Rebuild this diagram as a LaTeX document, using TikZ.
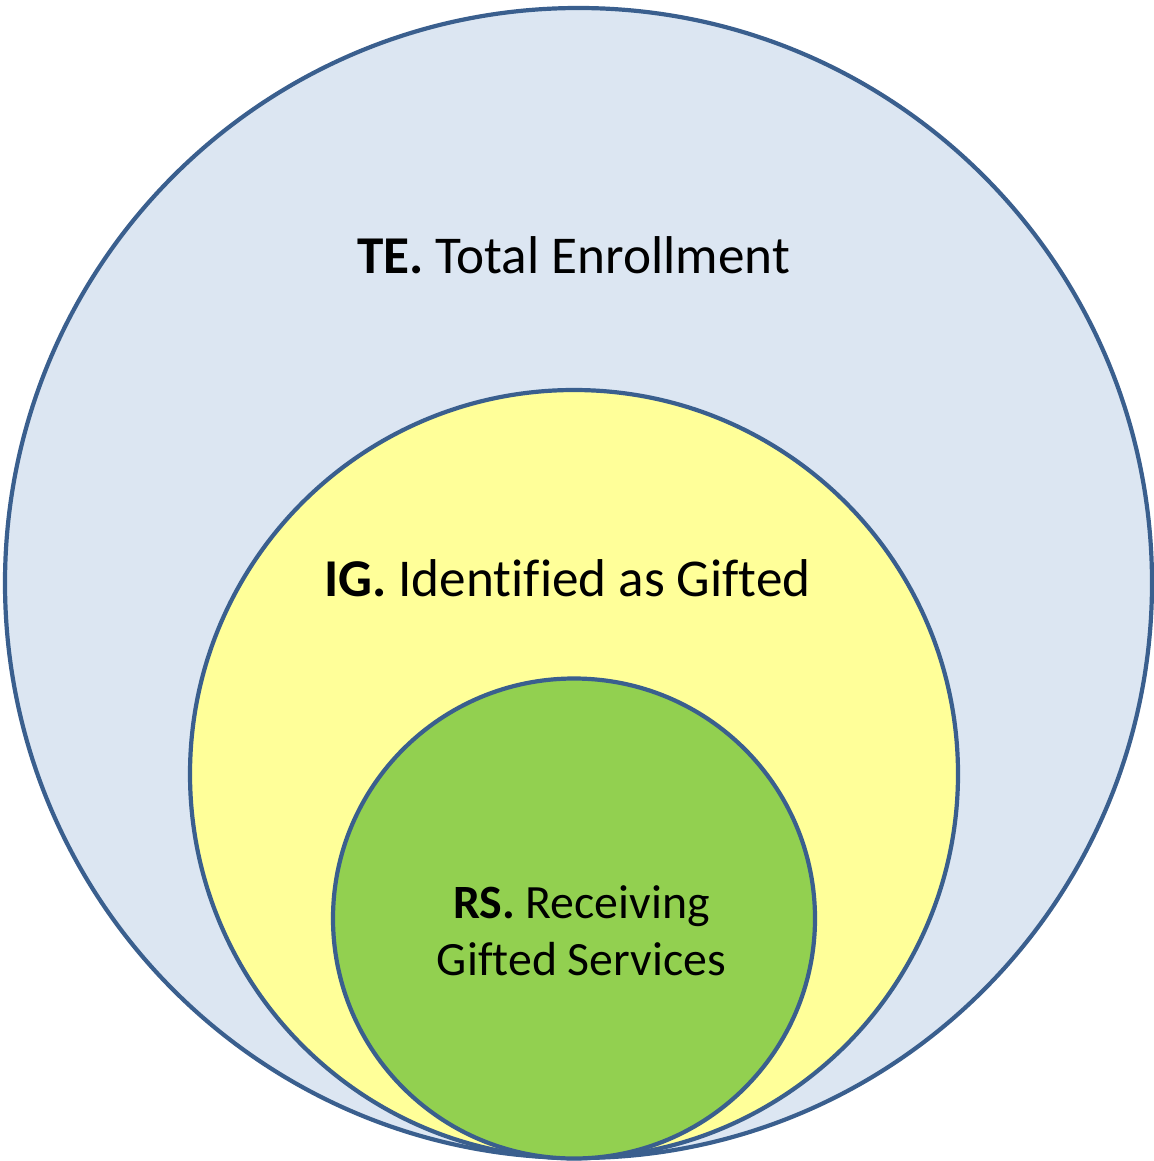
\documentclass[tikz,border=0pt]{standalone}
\usepackage{fontspec}
\setmainfont[Ligatures={NoCommon}]{Carlito}
\usetikzlibrary{shapes.geometric, positioning}
\definecolor{edgeblue}{HTML}{3A5F8E}
\definecolor{teblue}{HTML}{DCE6F2}
\definecolor{igyellow}{HTML}{FFFF99}
\definecolor{rsgreen}{HTML}{92D050}
\tikzstyle{zone} = [ellipse, draw=edgeblue, line width=2.1pt, inner sep=0pt]
\tikzstyle{caption} = [anchor=base, align=center, inner sep=0pt, font=\fontsize{26.6}{28.6}\selectfont]

\begin{document}
\begin{tikzpicture}[x=0.5pt, y=-0.5pt]
    \useasboundingbox (0,0) rectangle (1153,1161);
    \node (te) [zone, fill=teblue, minimum width=573.5pt, minimum height=575pt] at (578.5,583) {};
    \node (ig) [zone, fill=igyellow, minimum width=384pt, minimum height=384pt] at (574,774) {};
    \node (rs) [zone, fill=rsgreen, minimum width=241pt, minimum height=240pt] at (574,918.5) {};
    \node (telbl) [caption] at (573.5,273) {\textbf{TE.} Total Enrollment};
    \node (iglbl) [caption] at (567.5,596) {\textbf{IG.} Identified as Gifted};
    \node (rslbl) [caption, font=\fontsize{23.9}{28.5}\selectfont] at (581.5,975) {\textbf{RS.} Receiving\\Gifted Services};
\end{tikzpicture}
\end{document}
